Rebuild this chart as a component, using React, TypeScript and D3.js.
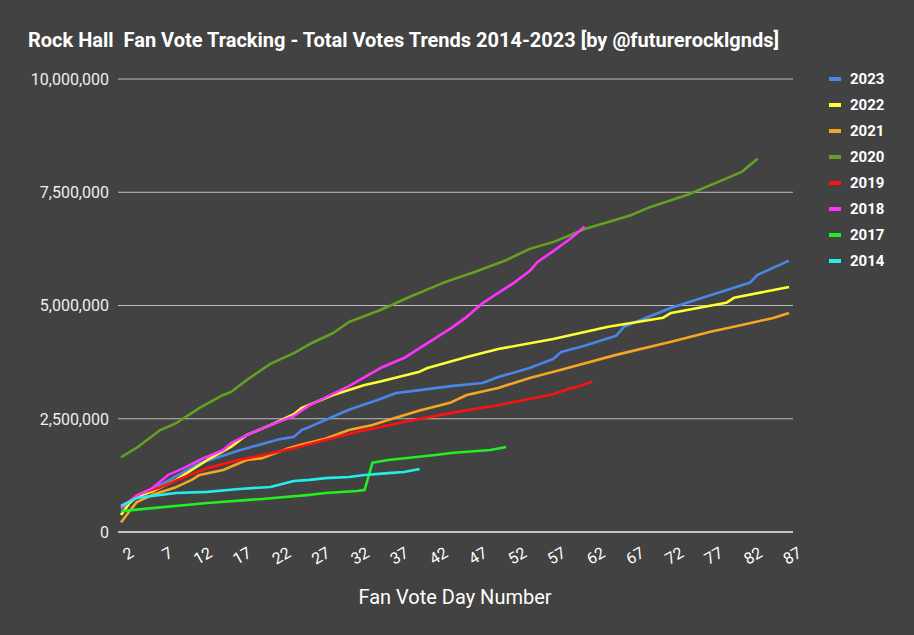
import React, { useEffect, useRef } from 'react';
import * as d3 from 'd3';

const days2023 = [2, 4, 7, 12, 17, 22, 24, 25, 26, 31, 35, 37, 39, 44, 48, 50, 54, 55, 57, 58, 61, 65, 66, 72, 82, 83, 87];
const votes2023 = [520, 770, 1040, 1520, 1800, 2040, 2100, 2250, 2320, 2700, 2935, 3070, 3110, 3220, 3290, 3420, 3620, 3690, 3820, 3975, 4110, 4330, 4530, 4950, 5500, 5675, 5990];

const days2022 = [2, 3, 4, 6, 9, 13, 16, 18, 21, 24, 25, 29, 33, 35, 40, 41, 46, 50, 57, 64, 71, 72, 79, 80, 87];
const votes2022 = [375, 620, 780, 900, 1150, 1590, 1880, 2140, 2360, 2600, 2740, 3025, 3245, 3320, 3540, 3620, 3865, 4040, 4260, 4530, 4730, 4835, 5060, 5170, 5410];

const days2021 = [2, 3, 4, 6, 9, 11, 12, 15, 18, 20, 23, 25, 28, 31, 34, 36, 40, 44, 46, 50, 54, 58, 65, 72, 77, 81, 85, 87];
const votes2021 = [210, 440, 660, 820, 990, 1150, 1260, 1370, 1590, 1630, 1830, 1930, 2060, 2250, 2360, 2470, 2680, 2860, 3025, 3180, 3400, 3580, 3910, 4200, 4420, 4570, 4725, 4835];

const days2020 = [2, 4, 7, 9, 12, 15, 16, 18, 21, 24, 26, 29, 31, 35, 39, 43, 47, 51, 54, 57, 61, 64, 67, 69, 74, 78, 81, 83];
const votes2020 = [1650, 1860, 2250, 2400, 2740, 3025, 3090, 3356, 3710, 3950, 4150, 4394, 4637, 4900, 5210, 5500, 5740, 6000, 6250, 6400, 6690, 6845, 7000, 7150, 7440, 7730, 7950, 8240];

const days2019 = [2, 4, 7, 10, 13, 17, 19, 24, 28, 32, 35, 38, 44, 50, 57, 59, 60, 62];
const votes2019 = [530, 820, 990, 1210, 1410, 1590, 1660, 1850, 2030, 2210, 2320, 2430, 2630, 2800, 3040, 3160, 3200, 3320];

const days2018 = [2, 4, 6, 8, 10, 12, 15, 16, 18, 21, 24, 26, 31, 35, 38, 42, 44, 46, 48, 50, 52, 54, 55, 57, 59, 61];
const votes2018 = [530, 800, 970, 1260, 1410, 1590, 1810, 1960, 2140, 2360, 2560, 2800, 3220, 3620, 3840, 4280, 4500, 4750, 5050, 5280, 5500, 5760, 5960, 6200, 6450, 6740];

const days2017 = [2, 5, 13, 20, 26, 28, 32, 33, 34, 36, 42, 44, 49, 51];
const votes2017 = [460, 510, 640, 730, 820, 860, 905, 930, 1530, 1590, 1700, 1745, 1810, 1875];

const days2014 = [2, 4, 5, 9, 13, 17, 21, 23, 24, 26, 28, 31, 33, 36, 38, 40];
const votes2014 = [575, 750, 775, 860, 885, 950, 995, 1080, 1125, 1150, 1190, 1215, 1260, 1300, 1325, 1390];

const seriesNames = ['2023', '2022', '2021', '2020', '2019', '2018', '2017', '2014'];
const seriesColors = ['#4a86e8', '#ffff33', '#f5a623', '#65a022', '#ff1111', '#ff33ff', '#22ee22', '#22eeee'];
const seriesDays = [days2023, days2022, days2021, days2020, days2019, days2018, days2017, days2014];
const seriesVotes = [votes2023, votes2022, votes2021, votes2020, votes2019, votes2018, votes2017, votes2014];

const yTicks = [0, 2500000, 5000000, 7500000, 10000000];
const xTicks = [2, 7, 12, 17, 22, 27, 32, 37, 42, 47, 52, 57, 62, 67, 72, 77, 82, 87];

const W = 914;
const H = 635;

const App: React.FC = () => {
  const svgRef = useRef<SVGSVGElement>(null);

  useEffect(() => {
    if (!svgRef.current) return;
    const svg = d3.select(svgRef.current);
    svg.selectAll('*').remove();

    const font = 'Roboto, "Noto Sans", sans-serif';

    svg.append('rect').attr('width', W).attr('height', H).attr('fill', '#424242');

    const x = d3.scaleLinear().domain([2, 87]).range([121, 789]);
    const y = d3.scaleLinear().domain([0, 10000000]).range([532, 79]);
    const gridLeft = 118;
    const gridRight = 793;

    // Title
    svg.append('text')
      .attr('x', 28)
      .attr('y', 47)
      .attr('fill', '#ffffff')
      .style('font-family', font)
      .style('font-size', '20px')
      .style('font-weight', '700')
      .style('white-space', 'pre')
      .text('Rock Hall  Fan Vote Tracking - Total Votes Trends 2014-2023 [by @futurerocklgnds]');

    // Gridlines + y labels
    const fmt = d3.format(',');
    yTicks.forEach(t => {
      svg.append('line')
        .attr('x1', gridLeft).attr('x2', gridRight)
        .attr('y1', y(t)).attr('y2', y(t))
        .attr('stroke', t === 0 ? '#f0f0f0' : '#bdbdbd')
        .attr('stroke-width', t === 0 ? 1.5 : 1);
      svg.append('text')
        .attr('x', 109)
        .attr('y', y(t))
        .attr('dy', '0.36em')
        .attr('text-anchor', 'end')
        .attr('fill', '#eeeeee')
        .style('font-family', font)
        .style('font-size', '16px')
        .text(fmt(t));
    });

    // X labels, slanted
    xTicks.forEach(t => {
      const tx = x(t) + 8;
      const ty = 546;
      svg.append('text')
        .attr('transform', `translate(${tx},${ty}) rotate(-30)`)
        .attr('text-anchor', 'end')
        .attr('dy', '0.72em')
        .attr('fill', '#ffffff')
        .style('font-family', font)
        .style('font-size', '16px')
        .text(String(t));
    });

    // Axis title
    svg.append('text')
      .attr('x', 455)
      .attr('y', 604)
      .attr('text-anchor', 'middle')
      .attr('fill', '#ffffff')
      .style('font-family', font)
      .style('font-size', '20px')
      .text('Fan Vote Day Number');

    // Lines
    const line = d3.line<[number, number]>()
      .x(d => x(d[0]))
      .y(d => y(d[1] * 1000));

    seriesNames.forEach((name, i) => {
      const pts: [number, number][] = seriesDays[i].map((dd, j) => [dd, seriesVotes[i][j]]);
      svg.append('path')
        .datum(pts)
        .attr('d', line)
        .attr('fill', 'none')
        .attr('stroke', seriesColors[i])
        .attr('stroke-width', 2.6)
        .attr('stroke-linejoin', 'round');
    });

    // Legend
    seriesNames.forEach((name, i) => {
      const ly = 79 + i * 26;
      svg.append('rect')
        .attr('x', 829).attr('y', ly - 2)
        .attr('width', 12).attr('height', 4)
        .attr('fill', seriesColors[i]);
      svg.append('text')
        .attr('x', 850)
        .attr('y', ly)
        .attr('dy', '0.36em')
        .attr('fill', '#ffffff')
        .style('font-family', font)
        .style('font-size', '15px')
        .style('font-weight', '700')
        .text(name);
    });
  }, []);

  return (
    <svg
      ref={svgRef}
      width={W}
      height={H}
      style={{ position: 'absolute', left: 0, top: 0, display: 'block' }}
    />
  );
};

export default App;
